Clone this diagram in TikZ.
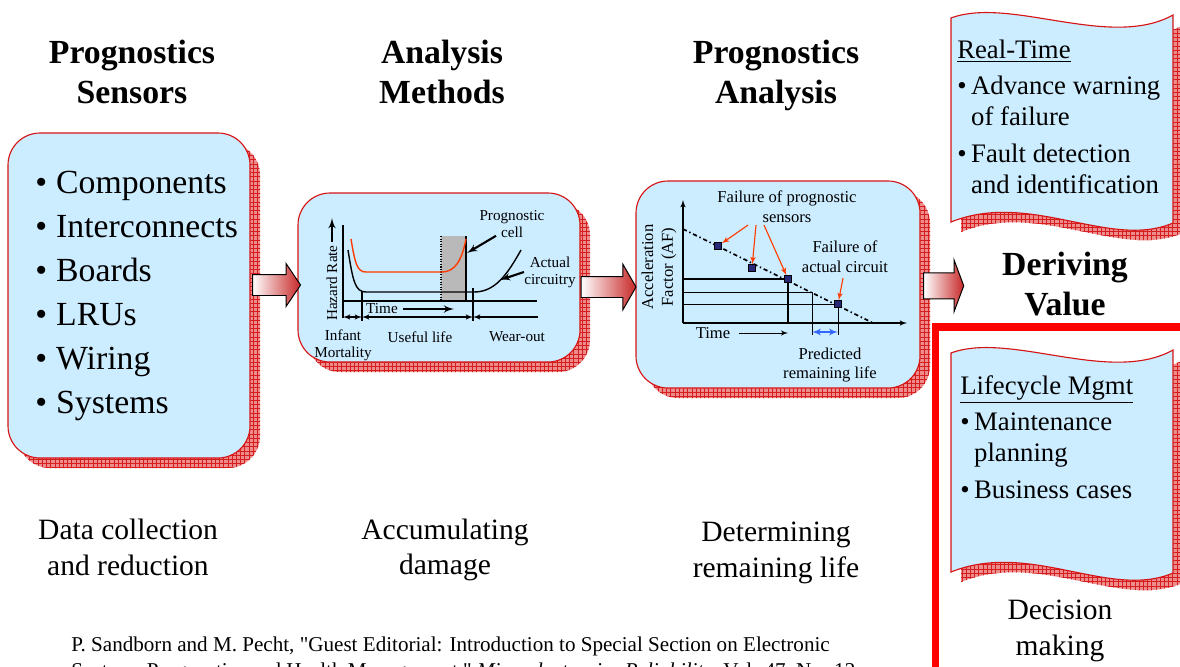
\documentclass[tikz,border=0pt]{standalone}
\usepackage{fontspec}
\setmainfont{Liberation Serif}
\newfontfamily\citefont{Liberation Serif}
\usetikzlibrary{calc,patterns,shapes,arrows}

\definecolor{boxblue}{RGB}{204,236,255}
\definecolor{boxred}{RGB}{215,20,20}
\definecolor{shadowred}{RGB}{236,140,140}
\definecolor{gridred}{RGB}{215,30,30}
\definecolor{arrowred}{RGB}{200,40,40}
\definecolor{curvered}{RGB}{255,60,0}
\definecolor{sqblue}{RGB}{40,40,120}
\definecolor{lifeblue}{RGB}{51,102,255}

\tikzstyle{panel} = [draw=boxred, fill=boxblue, line width=0.8pt, rounded corners=0.8cm]
\tikzstyle{panelshadow} = [fill=shadowred, rounded corners=0.8cm,
postaction={pattern=grid, pattern color=gridred}]
\tikzstyle{wavebox} = [draw=boxred, fill=boxblue, line width=0.8pt]
\tikzstyle{waveshadow} = [fill=shadowred, postaction={pattern=grid, pattern color=gridred}]
\tikzstyle{bigarrow} = [single arrow, draw=black, line width=0.7pt, left color=white,
right color=arrowred, inner xsep=0pt, single arrow head indent=0pt]
\tikzstyle{title} = [align=center, font=\fontsize{24}{28.4}\selectfont\bfseries]
\tikzstyle{caption} = [align=center, font=\fontsize{21}{25.5}\selectfont]
\tikzstyle{tiny} = [align=center, inner sep=0pt, font=\fontsize{10.8}{12}\selectfont]
\tikzstyle{mid} = [align=center, inner sep=0pt, font=\fontsize{11.8}{14}\selectfont]
\tikzstyle{line} = [draw, -latex']
\tikzstyle{thickline} = [draw, line width=1.5pt, -latex']
\tikzstyle{redline} = [draw=curvered, line width=0.8pt, -latex']
\tikzstyle{sq} = [rectangle, draw=black, fill=sqblue, minimum size=0.175cm, inner sep=0pt]

\newcommand{\itembul}[1]{\makebox[#1][l]{\textbullet}}
\newcommand{\wave}[2]{(951,#1) .. controls (1010,#1-22) and (1110,#1+32) .. (1173,#1-3)
-- (1173,#2+1) .. controls (1110,#2+28) and (1030,#2-32) .. (951,#2) -- cycle}

\begin{document}
\begin{tikzpicture}[x=0.025cm, y=-0.025cm]
	\useasboundingbox (0,0) rectangle (1180,666);
	% Titles
	\node [title] (senstitle) at (132,72) {Prognostics\\Sensors};
	\node [title] (anatitle) at (442,72) {Analysis\\Methods};
	\node [title] (progtitle) at (776,75) {Prognostics\\Analysis};
	\node [title] (derive) at (1065,284) {Deriving\\Value};
	
	% Panels
	\fill [panelshadow] (18,143) rectangle (260,468);
	\draw [panel] (8,133) rectangle (250,458);
	\fill [panelshadow] (308,203) rectangle (590,372);
	\draw [panel] (298,193) rectangle (580,362);
	\fill [panelshadow] (646,191) rectangle (930,398);
	\draw [panel] (636,181) rectangle (920,388);
	
	\node [anchor=west, align=left, inner sep=0pt, font=\fontsize{24}{31.3}\selectfont]
	(sensorlist) at (35,296) {\itembul{0.62em}Components\\
		\itembul{0.62em}Interconnects\\
		\itembul{0.62em}Boards\\
		\itembul{0.62em}LRUs\\
		\itembul{0.62em}Wiring\\
		\itembul{0.62em}Systems};
	
	% Hazard rate graph
	\fill [gray!55] (441,236) rectangle (466,301);
	\draw [densely dotted, line width=0.8pt] (441,236) -- (441,301);
	\draw [line width=0.8pt] (466,236) -- (466,301);
	\draw [line width=0.8pt] (343,225) -- (343,318);
	\draw [line width=0.8pt] (343,301) -- (537,301);
	\draw [curvered, line width=1pt] (351,239) .. controls (355,263) and (357,272) .. (366,272)
	-- (442,272) .. controls (455,272) and (462,260) .. (466,239);
	\draw [line width=1pt] (348,250) .. controls (353,281) and (355,292) .. (366,292)
	-- (474,292) .. controls (495,292) and (507,275) .. (521,250);
	\draw [line width=0.8pt] (362,292) -- (362,321);
	\draw [line width=0.8pt] (473,288) -- (473,321);
	\draw [line width=0.8pt, latex'-latex'] (343,317) -- (362,317);
	\draw [line width=0.8pt, latex'-latex'] (362,317) -- (473,317);
	\draw [line width=0.8pt, latex'-] (473,317) -- (538,317);
	
	\node [tiny, rotate=90] (hazard) at (332,283) {Hazard Rate};
	\draw [thickline] ([yshift=2pt]hazard.east) -- ++(0,-24);
	\node [tiny] (time1) at (382,309) {Time};
	\coordinate (time1end) at (454,309);
	\draw [thickline] ($(time1.east)+(5,0)$) -- (time1end);
	\node [tiny] (cell) at (512,224) {Prognostic\\cell};
	\coordinate (celltip) at (467,253);
	\draw [thickline] ($(cell.south)+(-16,-2)$) -- (celltip);
	\node [tiny] (actual) at (550,272) {Actual\\circuitry};
	\coordinate (actualtip) at (500,280);
	\draw [thickline] (actual.west) -- (actualtip);
	\node [tiny] (infant) at (343,345) {Infant\\Mortality};
	\node [tiny] (useful) at (420,337) {Useful life};
	\node [tiny] (wearout) at (517,337) {Wear-out};
	
	% Acceleration factor graph
	\draw [line, line width=0.8pt] (683,323) -- (683,200);
	\draw [line, line width=0.8pt] (683,323) -- (907,323);
	\draw [line width=1.2pt, dash pattern=on 3pt off 2pt on 1pt off 2pt] (683,229) -- (873,323);
	\draw [line width=1.4pt] (683,279) -- (788,279) -- (788,323);
	\draw [line width=0.7pt] (683,292) -- (812,292) -- (812,335);
	\draw [line width=0.7pt] (683,304) -- (838,304) -- (838,335);
	\draw [lifeblue, line width=1.2pt, latex'-latex'] (812,332) -- (838,332);
	\node [sq] (sq1) at (718,246) {};
	\node [sq] (sq2) at (752,268) {};
	\node [sq] (sq3) at (788,279) {};
	\node [sq] (sq4) at (838,304) {};
	
	\node [mid, rotate=90] (accel) at (659,267) {Acceleration\\Factor (AF)};
	\node [mid] (time2) at (713,333) {Time};
	\coordinate (time2end) at (788,333);
	\draw [line, line width=0.7pt] ($(time2.east)+(8,0)$) -- (time2end);
	\node [mid] (failsens) at (787,207) {Failure of prognostic\\sensors};
	\draw [redline] ($(failsens.south)+(-39,2)$) -- (sq1);
	\draw [redline] ($(failsens.south)+(-31,2)$) -- (sq2);
	\draw [redline] ($(failsens.south)+(-23,2)$) -- (sq3);
	\node [mid] (failact) at (845,257) {Failure of\\actual circuit};
	\draw [redline] ($(failact.south)+(-2,5)$) -- (sq4);
	\node [mid] (predicted) at (830,365) {Predicted\\remaining life};
	
	% Block arrows
	\node [bigarrow, minimum height=1.2cm, inner ysep=0.25cm, single arrow head extend=0.275cm,
	single arrow tip angle=112] (arr1) at (273,285) {};
	\node [bigarrow, minimum height=1.375cm, inner ysep=0.25cm, single arrow head extend=0.31cm,
	single arrow tip angle=120] (arr2) at (605.5,287) {};
	\node [bigarrow, minimum height=1cm, inner ysep=0.3125cm, single arrow head extend=0.325cm,
	single arrow tip angle=139] (arr3) at (941.3,285.8) {};
	
	% Deriving value
	\fill [waveshadow, shift={(10,10)}] \wave{18}{222};
	\draw [wavebox] \wave{18}{222};
	\node [anchor=west, align=left, inner sep=0pt, font=\fontsize{19}{22}\selectfont]
	(realtime) at (957,117) {\underline{Real-Time}\\[3.6pt]
		\itembul{0.52em}Advance warning\\
		\hspace*{0.52em}of failure\\[4.3pt]
		\itembul{0.52em}Fault detection\\
		\hspace*{0.52em}and identification};
	
	\draw [red, line width=5pt] (935.5,700) -- (935.5,327) -- (1200,327);
	\fill [waveshadow, shift={(10,10)}] \wave{353}{572};
	\draw [wavebox] \wave{353}{572};
	\node [anchor=west, align=left, inner sep=0pt, font=\fontsize{19}{22}\selectfont]
	(lifecycle) at (960,437) {\underline{Lifecycle Mgmt}\\[3.6pt]
		\itembul{0.52em}Maintenance\\
		\hspace*{0.52em}planning\\[4.3pt]
		\itembul{0.52em}Business cases};
	
	% Captions
	\node [caption] (cap1) at (128,547) {Data collection\\and reduction};
	\node [caption] (cap2) at (445,550) {Accumulating\\damage};
	\node [caption] (cap3) at (776,553) {Determining\\remaining life};
	\node [caption] (cap4) at (1060,630.5) {Decision\\making};
	
	\node [anchor=west, inner sep=0pt, font=\citefont\fontsize{15}{18}\selectfont] (cite1) at (71,646)
	{P. Sandborn and M. Pecht, "Guest Editorial: Introduction to Special Section on Electronic};
	\node [anchor=west, inner sep=0pt, font=\citefont\fontsize{15}{18}\selectfont] (cite2) at (71,672)
	{Systems Prognostics and Health Management," \textit{Microelectronics Reliability}, Vol. 47, No. 12,};
\end{tikzpicture}
\end{document}
